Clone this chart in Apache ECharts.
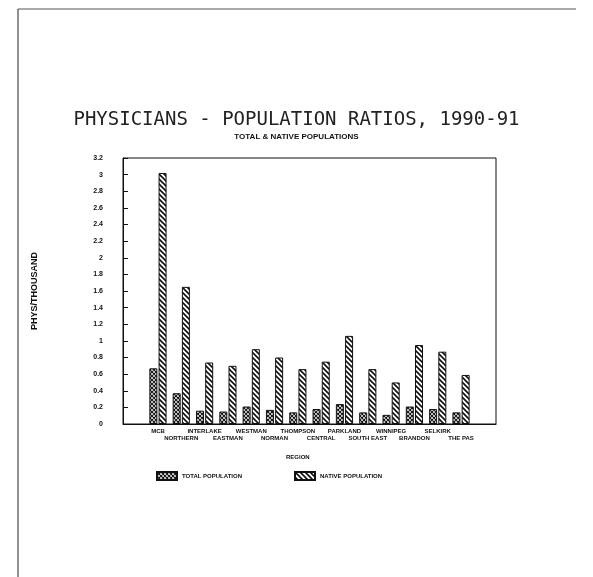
<!DOCTYPE html>
<html>
<head>
<meta charset="utf-8">
<script src="https://cdn.jsdelivr.net/npm/echarts@6/dist/echarts.min.js"></script>
<style>
  html, body { margin: 0; padding: 0; background: #fff; }
  #chart { width: 593px; height: 577px; }
</style>
</head>
<body>
<div id="chart"></div>
<script>
// regions along the x axis (hard to read on the scan, best guess)
const regions = ['MCB', 'NORTHERN', 'INTERLAKE', 'EASTMAN', 'WESTMAN', 'NORMAN', 'THOMPSON',
  'CENTRAL', 'PARKLAND', 'SOUTH EAST', 'WINNIPEG', 'BRANDON', 'SELKIRK', 'THE PAS']
// physicians per thousand
const totalRatio = [0.67, 0.37, 0.16, 0.15, 0.21, 0.17, 0.14, 0.18, 0.24, 0.14, 0.11, 0.21, 0.18, 0.14]
const nativeRatio = [3.02, 1.65, 0.74, 0.70, 0.90, 0.80, 0.66, 0.75, 1.06, 0.66, 0.50, 0.95, 0.87, 0.59]
const seriesNames = ['TOTAL POPULATION', 'NATIVE POPULATION']

const smallFont = '"Liberation Sans Narrow", "Liberation Sans", sans-serif'

// hatch patterns drawn on small canvases
function makePattern(kind) {
  const c = document.createElement('canvas')
  const s = kind === 'diag' ? 5 : 4
  c.width = s
  c.height = s
  const ctx = c.getContext('2d')
  ctx.fillStyle = '#fff'
  ctx.fillRect(0, 0, s, s)
  ctx.strokeStyle = '#111'
  ctx.lineWidth = kind === 'diag' ? 1.6 : 1.1
  ctx.beginPath()
  ctx.moveTo(-1, -1); ctx.lineTo(s + 1, s + 1)
  ctx.moveTo(-1, s - 1); ctx.lineTo(1, s + 1)
  ctx.moveTo(s - 1, -1); ctx.lineTo(s + 1, 1)
  if (kind === 'cross') {
    ctx.moveTo(s + 1, -1); ctx.lineTo(-1, s + 1)
    ctx.moveTo(1, -1); ctx.lineTo(-1, 1)
    ctx.moveTo(s + 1, s - 1); ctx.lineTo(s - 1, s + 1)
  }
  ctx.stroke()
  return { image: c, repeat: 'repeat' }
}

// empty band on each side, like the original plot
const categories = [''].concat(regions, [''])
const pad = arr => [null].concat(arr, [null])

const myChart = echarts.init(document.getElementById('chart'))

const options = {
  backgroundColor: '#fff',
  animation: false,
  title: {
    left: 'center',
    top: 106,
    text: 'PHYSICIANS - POPULATION RATIOS, 1990-91',
    textStyle: { fontFamily: '"DejaVu Sans Mono", monospace', fontSize: 19, fontWeight: 'normal', color: '#222' },
    subtext: 'TOTAL & NATIVE POPULATIONS',
    itemGap: 3,
    subtextStyle: { fontFamily: smallFont, fontSize: 8, fontWeight: 'bold', color: '#111' }
  },
  legend: {
    left: 151,
    top: 466,
    itemWidth: 20,
    itemHeight: 8,
    itemGap: 52,
    icon: 'rect',
    data: seriesNames,
    textStyle: { fontFamily: smallFont, fontSize: 6, fontWeight: 'bold', color: '#111' }
  },
  grid: {
    left: 123,
    top: 158,
    width: 373,
    height: 266,
    show: true,
    borderColor: '#111',
    borderWidth: 1
  },
  xAxis: {
    type: 'category',
    data: categories,
    axisLine: { lineStyle: { color: '#111' } },
    axisTick: { show: false },
    axisLabel: {
      interval: 0,
      margin: 4,
      fontFamily: smallFont,
      fontSize: 6,
      lineHeight: 7,
      fontWeight: 'bold',
      color: '#111',
      formatter: (v, i) => (i % 2 ? v : '\n' + v)
    }
  },
  yAxis: {
    type: 'value',
    min: 0,
    max: 3.2,
    interval: 0.2,
    name: 'PHYS/THOUSAND',
    nameLocation: 'middle',
    nameRotate: 90,
    nameGap: 84,
    nameTextStyle: { fontFamily: smallFont, fontSize: 9, fontWeight: 'bold', color: '#111' },
    axisLine: { show: true, lineStyle: { color: '#111' } },
    axisTick: { show: true, inside: true, length: 5, lineStyle: { color: '#111' } },
    splitLine: { show: false },
    axisLabel: { margin: 20, fontFamily: smallFont, fontSize: 7, fontWeight: 'bold', color: '#111' }
  },
  series: [
    {
      name: seriesNames[0],
      type: 'bar',
      barWidth: 8,
      barGap: '15%',
      itemStyle: { color: makePattern('cross'), borderColor: '#111', borderWidth: 1 },
      data: pad(totalRatio)
    },
    {
      name: seriesNames[1],
      type: 'bar',
      barWidth: 8,
      itemStyle: { color: makePattern('diag'), borderColor: '#111', borderWidth: 1 },
      data: pad(nativeRatio)
    }
  ],
  graphic: [
    // page border of the scan
    { type: 'line', shape: { x1: 18, y1: 9, x2: 18, y2: 577 }, style: { stroke: '#222', lineWidth: 1 } },
    { type: 'line', shape: { x1: 18, y1: 9, x2: 576, y2: 9 }, style: { stroke: '#555', lineWidth: 1 } },
    {
      type: 'text',
      left: 286,
      top: 454,
      style: { text: 'REGION', fontFamily: smallFont, fontSize: 6, fontWeight: 'bold', fill: '#111' }
    }
  ]
}

myChart.setOption(options)

window.addEventListener('resize', () => {
  myChart.resize()
})
</script>
</body>
</html>
